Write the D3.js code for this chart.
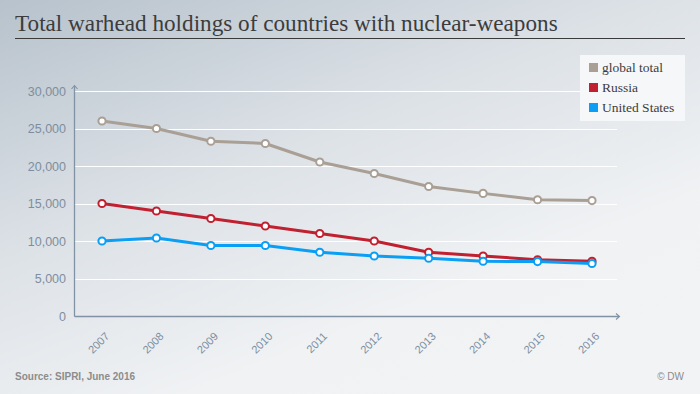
<!DOCTYPE html>
<html>
<head>
<meta charset="utf-8">
<script src="https://cdn.jsdelivr.net/npm/d3@7"></script>
<style>
  body { margin: 0; }
  svg { display: block; }
</style>
</head>
<body>
<svg id="chart" width="700" height="394"></svg>
<script>
const years = [2007, 2008, 2009, 2010, 2011, 2012, 2013, 2014, 2015, 2016];
const globalTotal = [26000, 25000, 23300, 23000, 20530, 19000, 17270, 16350, 15500, 15395];
const russia = [15000, 14000, 13000, 12000, 11000, 10000, 8500, 8000, 7500, 7290];
const unitedStates = [10000, 10400, 9400, 9400, 8500, 8000, 7700, 7300, 7260, 7000];
const yTicks = [0, 5000, 10000, 15000, 20000, 25000, 30000];

const series = [
  { name: 'global total', color: '#a99f95', values: globalTotal },
  { name: 'Russia', color: '#c0202f', values: russia },
  { name: 'United States', color: '#0a9ff4', values: unitedStates }
];

const svg = d3.select('svg#chart');

// background
const defs = svg.append('defs');
const grad = defs.append('linearGradient')
  .attr('id', 'bg')
  .attr('x1', '0%').attr('y1', '0%')
  .attr('x2', '70%').attr('y2', '100%');
grad.append('stop').attr('offset', '0%').attr('stop-color', '#b7c2cc');
grad.append('stop').attr('offset', '45%').attr('stop-color', '#dde2e7');
grad.append('stop').attr('offset', '80%').attr('stop-color', '#f0f2f4');
grad.append('stop').attr('offset', '100%').attr('stop-color', '#f2f3f5');
svg.append('rect').attr('width', 700).attr('height', 394).attr('fill', 'url(#bg)');

// title
svg.append('text')
  .attr('x', 15).attr('y', 30.5)
  .attr('font-family', 'Liberation Serif')
  .attr('font-size', 23.2)
  .attr('fill', '#3c3c3c')
  .text('Total warhead holdings of countries with nuclear-weapons');
svg.append('line')
  .attr('x1', 15).attr('x2', 685).attr('y1', 38.5).attr('y2', 38.5)
  .attr('stroke', '#3a3a3a').attr('stroke-width', 1.2);

const x = d3.scalePoint().domain(years).range([102, 592]);
const y = d3.scaleLinear().domain([0, 30000]).range([316, 91]);
const left = 74.5, right = 619;

// grid lines
svg.append('g').selectAll('line')
  .data(yTicks.filter(d => d > 0))
  .enter().append('line')
    .attr('x1', left).attr('x2', right - 2)
    .attr('y1', d => Math.round(y(d)) + 0.5).attr('y2', d => Math.round(y(d)) + 0.5)
    .attr('stroke', '#ffffff').attr('stroke-width', 1.2);

// y labels
svg.append('g').selectAll('text')
  .data(yTicks)
  .enter().append('text')
    .attr('x', 66).attr('y', d => y(d) + 4.5)
    .attr('text-anchor', 'end')
    .attr('font-family', 'Liberation Sans, Arial')
    .attr('font-size', 12.5)
    .attr('fill', '#7d8e9e')
    .text(d => d3.format(',')(d));

// axes with arrows
const axisColor = '#8092a3';
svg.append('path')
  .attr('d', `M${left},316.5 V86`)
  .attr('stroke', axisColor).attr('fill', 'none').attr('stroke-width', 1.3);
svg.append('path')
  .attr('d', `M${left - 3},89 L${left},85.5 L${left + 3},89`)
  .attr('stroke', axisColor).attr('fill', 'none').attr('stroke-width', 1.1);
svg.append('path')
  .attr('d', `M${left},316.5 H${right}`)
  .attr('stroke', axisColor).attr('fill', 'none').attr('stroke-width', 1.3);
svg.append('path')
  .attr('d', `M${right - 3},313.5 L${right + 0.5},316.5 L${right - 3},319.5`)
  .attr('stroke', axisColor).attr('fill', 'none').attr('stroke-width', 1.1);

// x labels
svg.append('g').selectAll('text')
  .data(years)
  .enter().append('text')
    .attr('transform', d => `translate(${x(d) + 8},${337}) rotate(-45)`)
    .attr('text-anchor', 'end')
    .attr('font-family', 'Liberation Sans, Arial')
    .attr('font-size', 11)
    .attr('fill', '#7d8ea0')
    .text(d => d);

// lines
const line = d3.line()
  .x((d, i) => x(years[i]))
  .y(d => y(d));

series.forEach(s => {
  const g = svg.append('g');
  g.append('path')
    .attr('d', line(s.values))
    .attr('fill', 'none')
    .attr('stroke', s.color)
    .attr('stroke-width', 3)
    .attr('stroke-linejoin', 'round');
  g.selectAll('circle').data(s.values)
    .enter().append('circle')
      .attr('cx', (d, i) => x(years[i]))
      .attr('cy', d => y(d))
      .attr('r', 3.6)
      .attr('fill', '#ffffff')
      .attr('stroke', s.color)
      .attr('stroke-width', 2);
});

// legend
const legend = svg.append('g');
legend.append('rect')
  .attr('x', 580).attr('y', 55).attr('width', 105).attr('height', 66)
  .attr('fill', '#f7f8fa').attr('opacity', 0.95);
const rows = legend.selectAll('g.row').data(series)
  .enter().append('g')
    .attr('class', 'row')
    .attr('transform', (d, i) => `translate(589,${63 + i * 20})`);
rows.append('rect')
  .attr('width', 9).attr('height', 9)
  .attr('fill', d => d.color);
rows.append('text')
  .attr('x', 13).attr('y', 9)
  .attr('font-family', 'Liberation Serif')
  .attr('font-size', 13.5)
  .attr('fill', '#3c3c3c')
  .text(d => d.name);

// footer
svg.append('text')
  .attr('x', 15).attr('y', 380)
  .attr('font-family', 'Liberation Sans, Arial')
  .attr('font-weight', 'bold')
  .attr('font-size', 10)
  .attr('fill', '#8c8c8c')
  .text('Source: SIPRI, June 2016');
svg.append('text')
  .attr('x', 684).attr('y', 380)
  .attr('text-anchor', 'end')
  .attr('font-family', 'Liberation Sans, Arial')
  .attr('font-size', 10)
  .attr('fill', '#8c8c8c')
  .text('© DW');
</script>
</body>
</html>
